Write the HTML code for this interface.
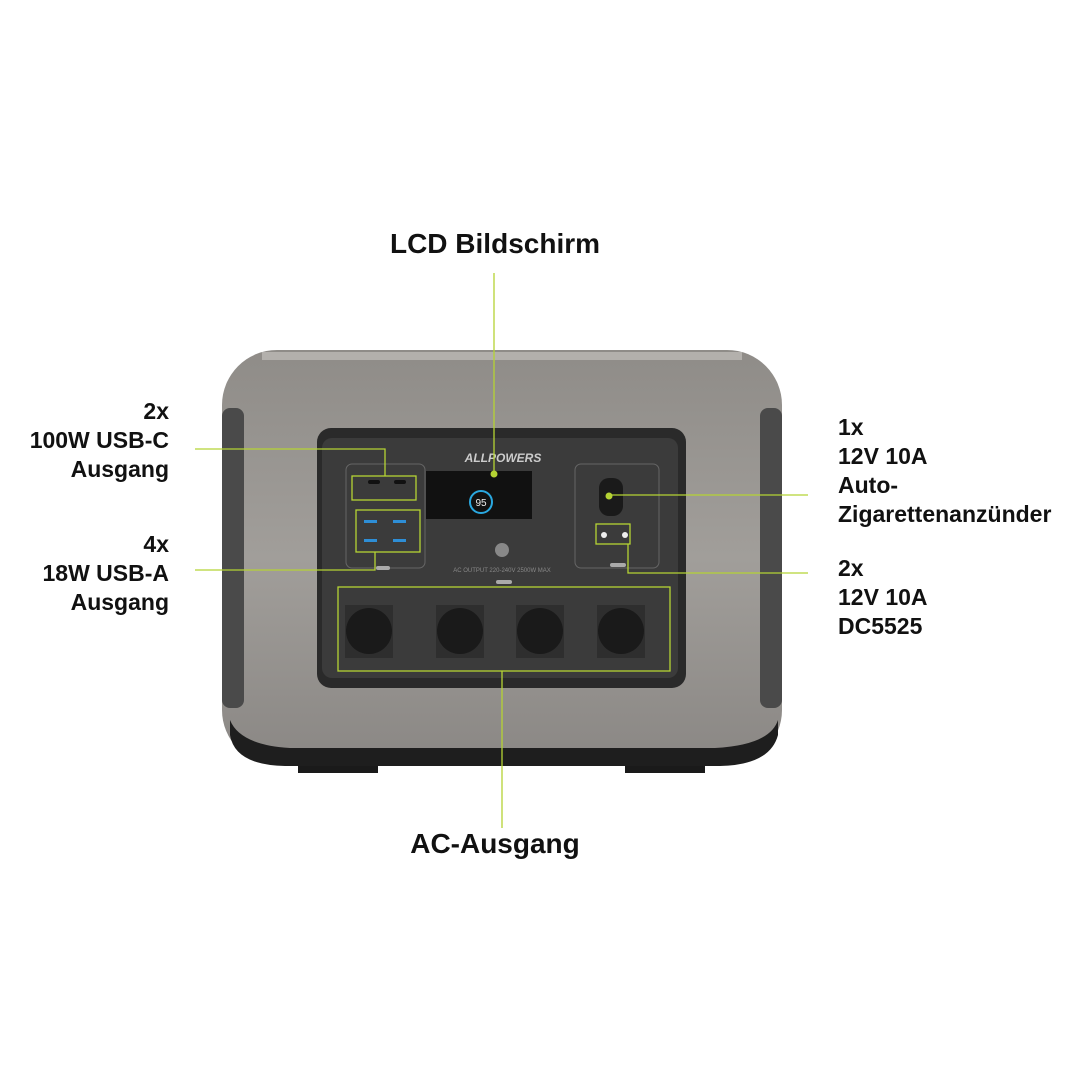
<!DOCTYPE html>
<html><head><style>
body{margin:0;width:1080px;height:1080px;background:#fff;position:relative;overflow:hidden;font-family:"Liberation Sans",sans-serif}
.t{position:absolute;font-weight:bold;color:#111;font-size:23px;line-height:29px}
.a{position:absolute}
</style></head><body>
<div class="t" style="left:300px;top:229px;width:390px;text-align:center;font-size:28px">LCD Bildschirm</div>
<div class="t" style="left:300px;top:829px;width:390px;text-align:center;font-size:28px">AC-Ausgang</div>
<div class="t" style="left:0;top:397px;width:169px;text-align:right">2x<br>100W USB-C<br>Ausgang</div>
<div class="t" style="left:0;top:530px;width:169px;text-align:right">4x<br>18W USB-A<br>Ausgang</div>
<div class="t" style="left:838px;top:413px">1x<br>12V 10A<br>Auto-<br>Zigarettenanzünder</div>
<div class="t" style="left:838px;top:554px">2x<br>12V 10A<br>DC5525</div>
<svg class="a" style="left:0;top:0" width="1080" height="1080">
<defs>
<linearGradient id="g" x1="0" y1="0" x2="0" y2="1"><stop offset="0" stop-color="#8f8c88"/><stop offset=".5" stop-color="#a19e9a"/><stop offset="1" stop-color="#8a8784"/></linearGradient>
</defs>
<rect x="298" y="755" width="80" height="18" fill="#1a1a1a"/>
<rect x="625" y="755" width="80" height="18" fill="#1a1a1a"/>
<rect x="222" y="350" width="560" height="415" rx="55" fill="url(#g)"/>
<rect x="262" y="352" width="480" height="8" fill="#b3b0ac"/>
<path d="M230 720 Q240 745 290 748 L715 748 Q770 745 778 720 L778 735 Q770 765 720 766 L285 766 Q235 765 230 735Z" fill="#1e1e1e"/>
<rect x="222" y="408" width="22" height="300" rx="8" fill="#4a4a4a"/>
<rect x="760" y="408" width="22" height="300" rx="8" fill="#4a4a4a"/>
<rect x="317" y="428" width="369" height="260" rx="14" fill="#2a2a2a"/>
<rect x="322" y="438" width="356" height="240" rx="10" fill="#3b3b3b"/>
<text x="503" y="462" fill="#ccc" font-size="12" font-weight="bold" font-style="italic" text-anchor="middle" font-family="Liberation Sans">ALLPOWERS</text>
<rect x="346" y="464" width="79" height="104" rx="6" fill="none" stroke="#666"/>
<rect x="575" y="464" width="84" height="104" rx="6" fill="none" stroke="#666"/>
<rect x="426" y="471" width="106" height="48" fill="#111"/>
<circle cx="481" cy="502" r="11" fill="none" stroke="#2aa8e0" stroke-width="2"/>
<text x="481" y="506" fill="#eee" font-size="10" text-anchor="middle">95</text>
<rect x="376" y="566" width="14" height="4" rx="2" fill="#aaa"/>
<rect x="496" y="580" width="16" height="4" rx="2" fill="#aaa"/>
<rect x="610" y="563" width="16" height="4" rx="2" fill="#aaa"/>
<circle cx="502" cy="550" r="7" fill="#888"/>
<text x="502" y="572" fill="#888" font-size="6" text-anchor="middle">AC OUTPUT 220-240V 2500W MAX</text>
<rect x="368" y="480" width="12" height="4" rx="2" fill="#111"/><rect x="394" y="480" width="12" height="4" rx="2" fill="#111"/>
<g fill="#2e8ed6"><rect x="364" y="520" width="13" height="3"/><rect x="393" y="520" width="13" height="3"/><rect x="364" y="539" width="13" height="3"/><rect x="393" y="539" width="13" height="3"/></g>
<rect x="599" y="478" width="24" height="38" rx="10" fill="#1a1a1a"/>
<circle cx="604" cy="535" r="3" fill="#eee"/><circle cx="625" cy="535" r="3" fill="#eee"/>
<g fill="#2e2e2e"><rect x="345" y="605" width="48" height="53"/><rect x="436" y="605" width="48" height="53"/><rect x="516" y="605" width="48" height="53"/><rect x="597" y="605" width="48" height="53"/></g>
<g fill="#1a1a1a"><circle cx="369" cy="631" r="23"/><circle cx="460" cy="631" r="23"/><circle cx="540" cy="631" r="23"/><circle cx="621" cy="631" r="23"/></g>
<g stroke="#b5d334" stroke-width="1.3" fill="none">
<rect x="352" y="476" width="64" height="24"/>
<rect x="356" y="510" width="64" height="42"/>
<rect x="596" y="524" width="34" height="20"/>
<rect x="338" y="587" width="332" height="84"/>
<line x1="494" y1="273" x2="494" y2="474"/>
<polyline points="195,449 385,449 385,476"/>
<polyline points="195,570 375,570 375,552"/>
<line x1="609" y1="495" x2="808" y2="495"/>
<polyline points="628,544 628,573 808,573"/>
<line x1="502" y1="671" x2="502" y2="828"/>
</g>
<circle cx="494" cy="474" r="3.5" fill="#b5d334"/>
<circle cx="609" cy="496" r="3.5" fill="#b5d334"/>
</svg>
</body></html>
